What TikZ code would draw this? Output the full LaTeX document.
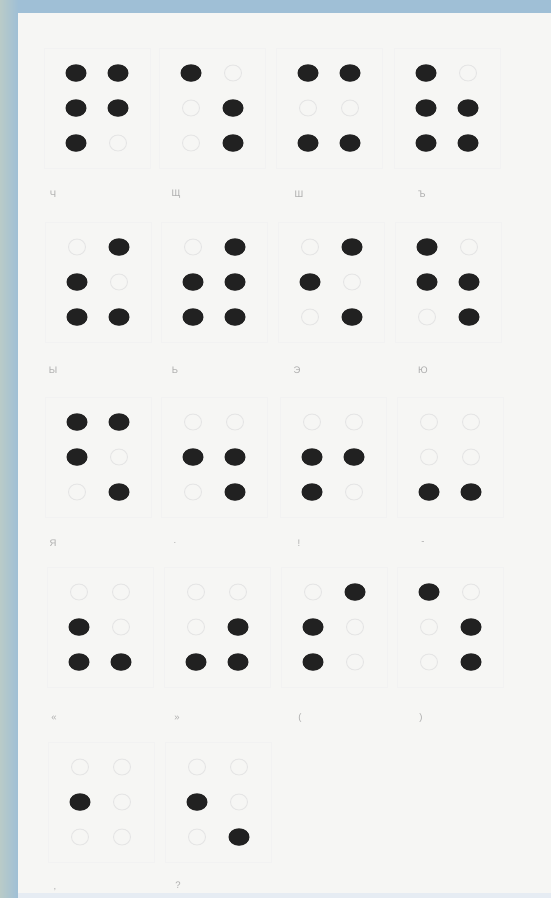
\documentclass[tikz,border=0pt]{standalone}
\usepackage{fontspec}
\setmainfont{Liberation Sans}
\usetikzlibrary{shapes.geometric}
\definecolor{bandblue}{HTML}{9FBFD6}
\definecolor{bandgreen}{HTML}{B9CBC8}
\definecolor{paper}{HTML}{F6F6F4}
\definecolor{bottomline}{HTML}{E6ECF3}
\tikzset{
  fulldot/.style={ellipse, fill=black!87, minimum width=21pt, minimum height=17.5pt, inner sep=0pt},
  emptydot/.style={ellipse, draw=black!10, line width=0.9pt, minimum width=17pt, minimum height=16pt, inner sep=0pt},
  cellbox/.style={draw=black!5, line width=0.9pt},
  lbl/.style={text=black!32, font=\fontsize{9.5}{9.5}\selectfont, inner sep=0pt}
}
\newcommand\brdot[4]{%
  \ifnum#3=1 \node[fulldot] (#4) at (#1,#2) {};\else \node[emptydot] (#4) at (#1,#2) {};\fi}
\newcommand\brcell[9]{%
  \draw[cellbox] (#1-32,#2-25) rectangle (#1+74,#2+95);
  \brdot{#1}{#2}{#3}{#9-1}
  \brdot{#1+42}{#2}{#4}{#9-4}
  \brdot{#1}{#2+35}{#5}{#9-2}
  \brdot{#1+42}{#2+35}{#6}{#9-5}
  \brdot{#1}{#2+70}{#7}{#9-3}
  \brdot{#1+42}{#2+70}{#8}{#9-6}}
\begin{document}
\begin{tikzpicture}[x=1pt,y=-1pt]
\useasboundingbox (0,0) rectangle (551,898);
% frame
\fill[bandblue] (0,0) rectangle (551,898);
\fill[left color=bandgreen, right color=bandblue] (0,0) rectangle (18,898);
\fill[paper] (18,13) rectangle (551,893);
\fill[bottomline] (18,893) rectangle (551,898);
% row 1
\brcell{76}{73}{1}{1}{1}{1}{1}{0}{a}
\brcell{191}{73}{1}{0}{0}{1}{0}{1}{b}
\brcell{308}{73}{1}{1}{0}{0}{1}{1}{c}
\brcell{426}{73}{1}{0}{1}{1}{1}{1}{d}
% row 2
\brcell{77}{247}{0}{1}{1}{0}{1}{1}{e}
\brcell{193}{247}{0}{1}{1}{1}{1}{1}{f}
\brcell{310}{247}{0}{1}{1}{0}{0}{1}{g}
\brcell{427}{247}{1}{0}{1}{1}{0}{1}{h}
% row 3
\brcell{77}{422}{1}{1}{1}{0}{0}{1}{i}
\brcell{193}{422}{0}{0}{1}{1}{0}{1}{j}
\brcell{312}{422}{0}{0}{1}{1}{1}{0}{k}
\brcell{429}{422}{0}{0}{0}{0}{1}{1}{l}
% row 4
\brcell{79}{592}{0}{0}{1}{0}{1}{1}{m}
\brcell{196}{592}{0}{0}{0}{1}{1}{1}{n}
\brcell{313}{592}{0}{1}{1}{0}{1}{0}{o}
\brcell{429}{592}{1}{0}{0}{1}{0}{1}{p}
% row 5
\brcell{80}{767}{0}{0}{1}{0}{0}{0}{q}
\brcell{197}{767}{0}{0}{1}{0}{0}{1}{r}
% labels
\node[lbl] (la) at (53,194) {Ч};
\node[lbl] (lb) at (176,194) {Щ};
\node[lbl] (lc) at (299,194) {Ш};
\node[lbl] (ld) at (422,194) {Ъ};
\node[lbl] (le) at (53,370) {Ы};
\node[lbl] (lf) at (175,370) {Ь};
\node[lbl] (lg) at (297,370) {Э};
\node[lbl] (lh) at (423,370) {Ю};
\node[lbl] (li) at (53,543) {Я};
\node[lbl] (lj) at (175,543) {.};
\node[lbl] (lk) at (299,543) {!};
\node[lbl] (ll) at (423,543) {-};
\node[lbl] (lm) at (54,718) {«};
\node[lbl] (ln) at (177,718) {»};
\node[lbl] (lo) at (300,718) {(};
\node[lbl] (lp) at (421,718) {)};
\node[lbl] (lq) at (55,890) {,};
\node[lbl] (lr) at (178,885) {?};
\end{tikzpicture}
\end{document}
